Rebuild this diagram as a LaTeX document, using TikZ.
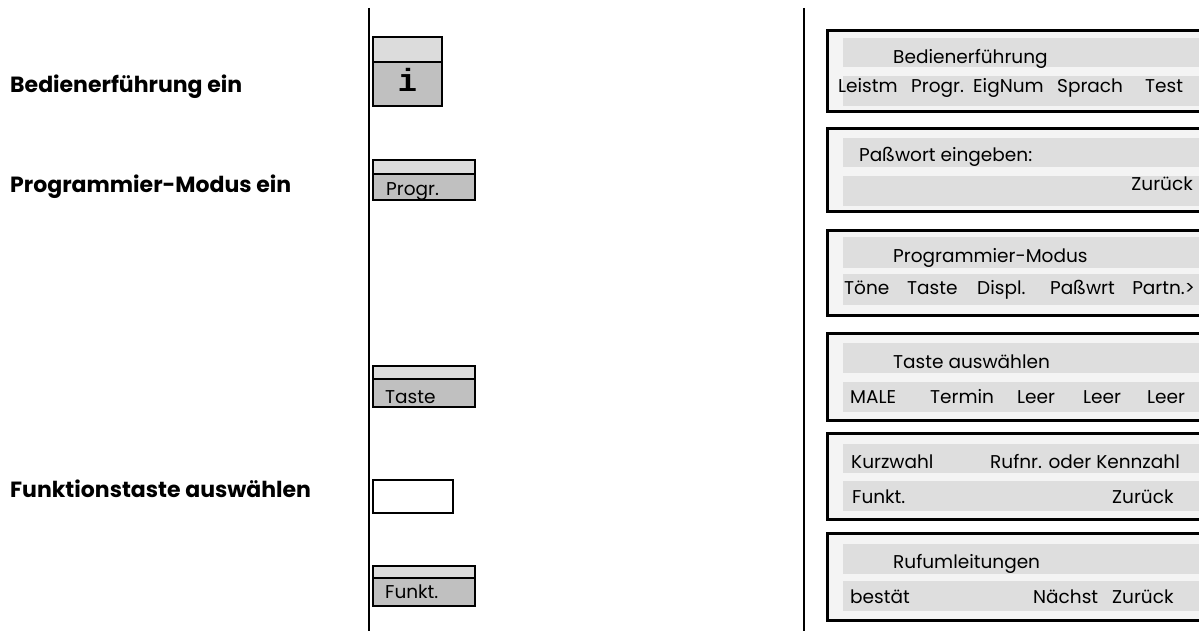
\documentclass[tikz,border=0pt]{standalone}
\usepackage{fontspec}
\setmainfont{Poppins}
\newfontfamily\keymono{Liberation Mono}
\definecolor{keytop}{HTML}{DCDCDC}
\definecolor{keylow}{HTML}{C0C0C0}
\definecolor{dispbg}{HTML}{F4F4F4}
\definecolor{dispbar}{HTML}{DEDEDE}
\begin{document}
\begin{tikzpicture}[x=1pt,y=-1pt,
  lbl/.style={font=\fontsize{22}{24}\selectfont\bfseries, anchor=base west, inner sep=0},
  dtxt/.style={font=\fontsize{18.5}{20}\selectfont, anchor=base west, inner sep=0},
  ktxt/.style={font=\fontsize{18.5}{20}\selectfont, anchor=base west, inner sep=0},
  sep/.style={line width=2pt},
  keyframe/.style={draw=black, line width=1.6pt},
  dispframe/.style={draw=black, line width=3pt, fill=dispbg},
  bar/.style={fill=dispbar}]
\useasboundingbox (0,0) rectangle (1199,631);
\clip (0,0) rectangle (1199,631);
% separators
\draw[sep] (369,8) -- (369,631);
\draw[sep] (804,8) -- (804,631);
% left labels
\node[lbl] (l1) at (10,93) {Bedienerführung ein};
\node[lbl] (l2) at (10,193) {Programmier-Modus ein};
\node[lbl] (l3) at (10,497) {Funktionstaste auswählen};
% key i
\fill[keytop] (373,37) rectangle (442,62);
\fill[keylow] (373,62) rectangle (442,106);
\draw[keyframe] (373,37) rectangle (442,106) (373,62) -- (442,62);
\node[font=\keymono\bfseries\fontsize{32}{34}\selectfont, inner sep=0] (ki) at (407.5,80) {i};
% key Progr.
\fill[keytop] (373,160) rectangle (475,174);
\fill[keylow] (373,174) rectangle (475,200);
\draw[keyframe] (373,160) rectangle (475,200) (373,174) -- (475,174);
\node[ktxt] (kp) at (386,196) {Progr.};
% key Taste
\fill[keytop] (373,366) rectangle (475,379);
\fill[keylow] (373,379) rectangle (475,407);
\draw[keyframe] (373,366) rectangle (475,407) (373,379) -- (475,379);
\node[ktxt] (kt) at (385,403) {Taste};
% empty key
\draw[keyframe, fill=white] (373,480) rectangle (453,513);
% key Funkt.
\fill[keytop] (373,566) rectangle (475,578);
\fill[keylow] (373,578) rectangle (475,606);
\draw[keyframe] (373,566) rectangle (475,606) (373,578) -- (475,578);
\node[ktxt] (kf) at (385,598) {Funkt.};
% displays
\foreach \t/\b/\ba/\bb/\bc/\bd in {31/112/38/67/76/106, 129/212/138/167/176/206, 230/315/237/268/274/305, 333/420/343/373/382/412, 433/519/444/473/481/511, 533/620/544/574/581/611}{
  \draw[dispframe] (827,\t) rectangle (1230,\b);
  \fill[bar] (843,\ba) rectangle (1230,\bb);
  \fill[bar] (843,\bc) rectangle (1230,\bd);
}
% display 1
\node[dtxt] (d1a) at (893,64) {Bedienerführung};
\node[dtxt] (d1b) at (838,93) {Leistm};
\node[dtxt] (d1c) at (911,93) {Progr.};
\node[dtxt] (d1d) at (973,93) {EigNum};
\node[dtxt] (d1e) at (1057,93) {Sprach};
\node[dtxt] (d1f) at (1145,93) {Test};
% display 2
\node[dtxt] (d2a) at (859,162) {Paßwort eingeben:};
\node[dtxt, anchor=base east] (d2b) at (1193,191) {Zurück};
% display 3
\node[dtxt] (d3a) at (893,262) {Programmier-Modus};
\node[dtxt] (d3b) at (844,294) {Töne};
\node[dtxt] (d3c) at (907,294) {Taste};
\node[dtxt] (d3d) at (977,294) {Displ.};
\node[dtxt] (d3e) at (1050,294) {Paßwrt};
\node[dtxt, anchor=base east] (d3f) at (1195,294) {Partn.>};
% display 4
\node[dtxt] (d4a) at (893,368) {Taste auswählen};
\node[dtxt] (d4b) at (850,403) {MALE};
\node[dtxt] (d4c) at (930,403) {Termin};
\node[dtxt] (d4d) at (1017,403) {Leer};
\node[dtxt] (d4e) at (1083,403) {Leer};
\node[dtxt] (d4f) at (1147,403) {Leer};
% display 5
\node[dtxt] (d5a) at (851,468) {Kurzwahl};
\node[dtxt] (d5b) at (990,468) {Rufnr. oder Kennzahl};
\node[dtxt] (d5c) at (852,503) {Funkt.};
\node[dtxt] (d5d) at (1112,503) {Zurück};
% display 6
\node[dtxt] (d6a) at (893,568) {Rufumleitungen};
\node[dtxt] (d6b) at (850,603) {bestät};
\node[dtxt] (d6c) at (1033,603) {Nächst};
\node[dtxt] (d6d) at (1112,603) {Zurück};
\end{tikzpicture}
\end{document}
